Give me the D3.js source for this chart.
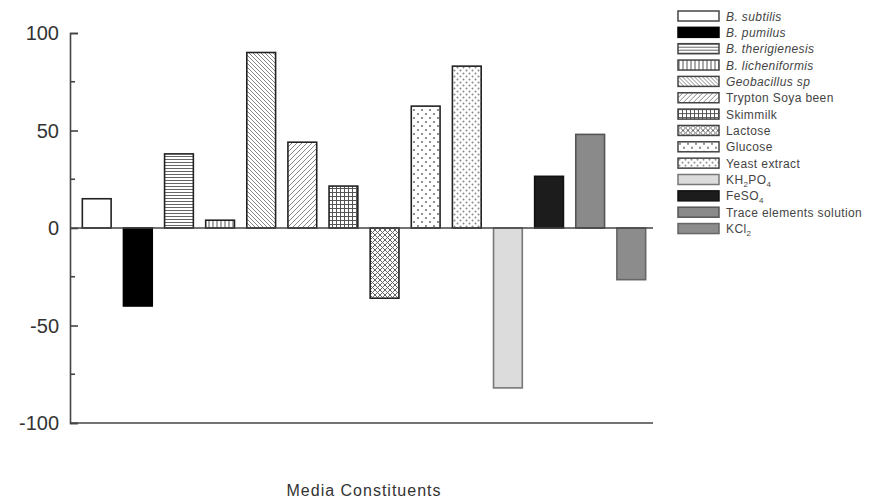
<!DOCTYPE html>
<html>
<head>
<meta charset="utf-8">
<script src="https://cdn.jsdelivr.net/npm/d3@7"></script>
<style>
  body { margin: 0; background: #fff; }
  text { font-family: "Liberation Sans", Arial, sans-serif; }
</style>
</head>
<body>
<svg id="chart" width="869" height="503"></svg>
<script>
// data
var categories = ['B. subtilis', 'B. pumilus', 'B. therigienesis', 'B. licheniformis', 'Geobacillus sp',
  'Trypton Soya been', 'Skimmilk', 'Lactose', 'Glucose', 'Yeast extract', 'KH2PO4', 'FeSO4',
  'Trace elements solution', 'KCl2'];
var values = [15, -40, 38, 4, 90, 44, 21.5, -36, 62.5, 83, -82, 26.5, 48, -26.5];
var italicNames = ['B. subtilis', 'B. pumilus', 'B. therigienesis', 'B. licheniformis', 'Geobacillus sp'];
var yTicks = [-100, -50, 0, 50, 100];
var yMinor = [-75, -25, 25, 75];

// how each bar is painted
var fills = ['#fff', '#000', 'url(#hlines)', 'url(#vlines)', 'url(#bdiag)', 'url(#fdiag)', 'url(#grid)',
  'url(#xhatch)', 'url(#dots)', 'url(#dots2)', '#dcdcdc', '#1c1c1c', '#8a8a8a', '#8c8c8c'];
var strokes = ['#222', '#000', '#222', '#222', '#222', '#222', '#222', '#222', '#222', '#222', '#777', '#111', '#555', '#666'];

var svg = d3.select('#chart');
var defs = svg.append('defs');

function pattern(id, w, h, draw) {
  var p = defs.append('pattern').attr('id', id).attr('patternUnits', 'userSpaceOnUse')
    .attr('width', w).attr('height', h);
  p.append('rect').attr('width', w).attr('height', h).attr('fill', '#fff');
  draw(p);
}
pattern('hlines', 4, 3, function (p) {
  p.append('line').attr('x1', 0).attr('x2', 4).attr('y1', 0.5).attr('y2', 0.5).attr('stroke', '#666').attr('stroke-width', 1);
});
pattern('vlines', 4, 4, function (p) {
  p.append('line').attr('x1', 1).attr('x2', 1).attr('y1', 0).attr('y2', 4).attr('stroke', '#555').attr('stroke-width', 1);
});
pattern('bdiag', 4, 4, function (p) {
  p.append('path').attr('d', 'M-1,-1L5,5M3,-1L5,1M-1,3L1,5').attr('stroke', '#888').attr('stroke-width', 1);
});
pattern('fdiag', 5, 5, function (p) {
  p.append('path').attr('d', 'M-1,6L6,-1M-1,1L1,-1M4,6L6,4').attr('stroke', '#888').attr('stroke-width', 1);
});
pattern('grid', 4, 4, function (p) {
  p.append('path').attr('d', 'M0,0.5H4M0.5,0V4').attr('stroke', '#555').attr('stroke-width', 1);
});
pattern('xhatch', 5, 5, function (p) {
  p.append('path').attr('d', 'M0,0L5,5M5,0L0,5').attr('stroke', '#666').attr('stroke-width', 1);
});
pattern('dots', 8, 8, function (p) {
  p.append('circle').attr('cx', 2).attr('cy', 2).attr('r', 1.1).attr('fill', '#777');
  p.append('circle').attr('cx', 6).attr('cy', 6).attr('r', 1.1).attr('fill', '#777');
});
pattern('dots2', 6, 6, function (p) {
  p.append('circle').attr('cx', 1.5).attr('cy', 1.5).attr('r', 1).attr('fill', '#888');
  p.append('circle').attr('cx', 4.5).attr('cy', 4.5).attr('r', 1).attr('fill', '#888');
});

var x = d3.scaleBand()
  .domain(categories)
  .range([70, 658])
  .paddingInner(0.3)
  .paddingOuter(0.3);

var y = d3.scaleLinear()
  .domain([-100, 100])
  .range([423, 33]);

// bars
svg.append('g').selectAll('rect')
  .data(values)
  .enter()
  .append('rect')
  .attr('x', function (d, i) { return x(categories[i]); })
  .attr('width', x.bandwidth())
  .attr('y', function (d) { return y(Math.max(0, d)); })
  .attr('height', function (d) { return Math.abs(y(d) - y(0)); })
  .attr('fill', function (d, i) { return fills[i]; })
  .attr('stroke', function (d, i) { return strokes[i]; })
  .attr('stroke-width', 1.6);

// zero line and bottom line
svg.append('line').attr('x1', 70).attr('x2', 653).attr('y1', y(0)).attr('y2', y(0))
  .attr('stroke', '#444').attr('stroke-width', 1.6);
svg.append('line').attr('x1', 70).attr('x2', 653).attr('y1', y(-100)).attr('y2', y(-100))
  .attr('stroke', '#444').attr('stroke-width', 1.6);

// y axis, ticks pointing inward
var yAxis = svg.append('g')
  .attr('transform', 'translate(70,0)')
  .call(d3.axisRight(y).tickValues(yTicks).tickSize(8).tickFormat(''));
yAxis.select('.domain').attr('stroke', '#444').attr('stroke-width', 1.6);
yAxis.selectAll('.tick line').attr('stroke', '#444').attr('stroke-width', 1.6);

svg.append('g').selectAll('line')
  .data(yMinor)
  .enter()
  .append('line')
  .attr('x1', 70).attr('x2', 75)
  .attr('y1', function (d) { return y(d); }).attr('y2', function (d) { return y(d); })
  .attr('stroke', '#444').attr('stroke-width', 1.6);

svg.append('g').selectAll('text')
  .data(yTicks)
  .enter()
  .append('text')
  .attr('x', 59)
  .attr('y', function (d) { return y(d) + 7; })
  .attr('text-anchor', 'end')
  .attr('font-size', 20)
  .attr('fill', '#333')
  .text(function (d) { return d; });

// x axis title
svg.append('text')
  .attr('x', 364)
  .attr('y', 496)
  .attr('text-anchor', 'middle')
  .attr('font-size', 16)
  .attr('letter-spacing', 1)
  .attr('fill', '#333')
  .text('Media Constituents');

// legend
var legend = svg.append('g').attr('transform', 'translate(678,11)');
var rows = legend.selectAll('g')
  .data(categories)
  .enter()
  .append('g')
  .attr('transform', function (d, i) { return 'translate(0,' + (i * 16.35) + ')'; });

rows.append('rect')
  .attr('width', 41)
  .attr('height', 10)
  .attr('fill', function (d, i) { return fills[i]; })
  .attr('stroke', function (d, i) { return strokes[i] == '#222' ? '#444' : strokes[i]; })
  .attr('stroke-width', 1.5);

rows.append('text')
  .attr('x', 48)
  .attr('y', 9.5)
  .attr('font-size', 12)
  .attr('letter-spacing', 0.4)
  .attr('fill', '#444')
  .attr('font-style', function (d) { return italicNames.indexOf(d) >= 0 ? 'italic' : 'normal'; })
  .each(function (d) {
    var t = d3.select(this);
    if (!/^(KH2PO4|FeSO4|KCl2)$/.test(d)) { t.text(d); return; }
    d.split(/(\d)/).forEach(function (s) {
      if (s === '') return;
      if (/\d/.test(s)) {
        t.append('tspan').attr('font-size', 8).attr('baseline-shift', -3).text(s);
      } else {
        t.append('tspan').text(s);
      }
    });
  });
</script>
</body>
</html>
